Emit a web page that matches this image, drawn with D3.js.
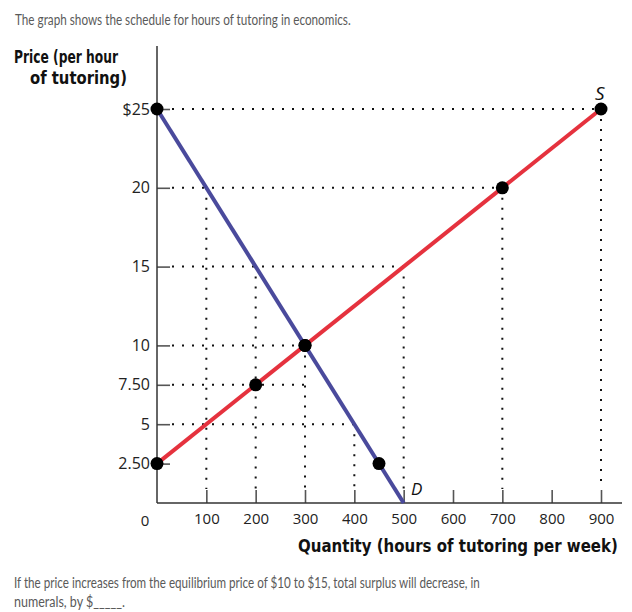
<!DOCTYPE html>
<html>
<head>
<meta charset="utf-8">
<script src="https://cdn.jsdelivr.net/npm/d3@7"></script>
<style>
  html, body { margin: 0; padding: 0; background: #fff; }
  svg { display: block; }
</style>
</head>
<body>
<script>
// ---- data ----
const priceTicks = [2.5, 5, 7.5, 10, 15, 20, 25];
const priceTickLabels = ["2.50", "5", "7.50", "10", "15", "20", "$25"];
const quantityTicks = [100, 200, 300, 400, 500, 600, 700, 800, 900];
const quantityTickLabels = ["100", "200", "300", "400", "500", "600", "700", "800", "900"];
const demandLine = [[0, 25], [500, 0]];
const demandPoints = [[0, 25], [300, 10], [450, 2.5]];
const supplyLine = [[0, 2.5], [900, 25]];
const supplyPoints = [[0, 2.5], [200, 7.5], [300, 10], [700, 20], [900, 25]];
const hGuides = [[900, 25], [700, 20], [500, 15], [300, 10], [300, 7.5], [400, 5]];
const vGuides = [[100, 20], [200, 15], [300, 10], [400, 5], [500, 15], [700, 20], [900, 25]];

const W = 632, H = 612;
const svg = d3.select("body").append("svg").attr("width", W).attr("height", H);

const x = d3.scaleLinear().domain([0, 900]).range([157, 601]);
const y = d3.scaleLinear().domain([0, 25]).range([503, 109]);

const tickFont = "'Open Sans', 'Noto Sans', sans-serif";

// place a text at (px, py) and scale it horizontally to the given width
function fitText(txt, px, py, width, attrs) {
  const t = svg.append("text").attr("x", 0).attr("y", 0).text(txt);
  Object.entries(attrs).forEach(([k, v]) => t.attr(k, v));
  const w = t.node().getComputedTextLength();
  const sx = w > 0 ? width / w : 1;
  t.attr("transform", `translate(${px},${py}) scale(${sx},1)`);
  return t;
}

// title
const qFont = "Lato, 'Open Sans', sans-serif";
fitText("The graph shows the schedule for hours of tutoring in economics.", 15, 25, 336,
  {"font-family": qFont, "font-size": 15, "fill": "#5a5a5a"});

// guides
const g = svg.append("g").attr("stroke", "#111").attr("stroke-width", 2)
  .attr("stroke-dasharray", "2,8").attr("fill", "none");
g.selectAll("line.h").data(hGuides).join("line").attr("class", "h")
  .attr("x1", x(0) + 15).attr("x2", d => x(d[0]))
  .attr("y1", d => y(d[1])).attr("y2", d => y(d[1]));
g.selectAll("line.v").data(vGuides).join("line").attr("class", "v")
  .attr("x1", d => x(d[0])).attr("x2", d => x(d[0]))
  .attr("y1", d => y(d[1]) + 10).attr("y2", y(0) - 14);

// axes
const yAxis = d3.axisLeft(y).tickValues(priceTicks)
  .tickFormat((d, i) => priceTickLabels[i]).tickSize(-13).tickPadding(7);
const xAxis = d3.axisBottom(x).tickValues(quantityTicks)
  .tickFormat((d, i) => quantityTickLabels[i]).tickSize(-13).tickPadding(10);

const ya = svg.append("g").attr("transform", `translate(${x(0)},0)`).call(yAxis)
  .attr("font-size", 16).attr("font-family", tickFont);
const xa = svg.append("g").attr("transform", `translate(0,${y(0)})`).call(xAxis)
  .attr("font-size", 15).attr("font-family", tickFont);
[ya, xa].forEach(a => {
  a.select(".domain").remove();
  a.selectAll(".tick line").attr("stroke", "#555").attr("stroke-width", 1.6);
  a.selectAll(".tick text").attr("fill", "#222");
});
ya.selectAll(".tick text").style("font-size", "16px");
xa.selectAll(".tick text").style("font-size", "15px");

// origin label
svg.append("text").attr("x", 145).attr("y", 526).attr("text-anchor", "middle")
  .attr("font-family", tickFont).attr("font-size", 15)
  .attr("fill", "#222").text("0");

svg.append("line").attr("x1", x(0)).attr("x2", x(0)).attr("y1", 46).attr("y2", y(0))
  .attr("stroke", "#333").attr("stroke-width", 1.5);
svg.append("line").attr("x1", x(0)).attr("x2", 622).attr("y1", y(0)).attr("y2", y(0))
  .attr("stroke", "#333").attr("stroke-width", 1.5);

// axis titles
const titleFont = "'Liberation Sans Narrow', 'DejaVu Sans Condensed', 'Noto Sans', sans-serif";
const titleAttrs = {"font-family": titleFont, "font-weight": "bold", "font-size": 18, "fill": "#111"};
fitText("Price (per hour", 14, 63, 104, titleAttrs);
fitText("of tutoring)", 30, 84, 97, titleAttrs);
fitText("Quantity (hours of tutoring per week)", 298, 552, 320, titleAttrs);

// curves
const line = d3.line().x(d => x(d[0])).y(d => y(d[1]));
svg.append("path").datum(demandLine).attr("d", line).attr("fill", "none")
  .attr("stroke", "#4a4a9c").attr("stroke-width", 4);
svg.append("path").datum(supplyLine).attr("d", line).attr("fill", "none")
  .attr("stroke", "#e5323e").attr("stroke-width", 4);

// points
svg.selectAll("circle.pt").data(demandPoints.concat(supplyPoints)).join("circle")
  .attr("class", "pt").attr("cx", d => x(d[0])).attr("cy", d => y(d[1]))
  .attr("r", 6.5).attr("fill", "#000");

// curve labels
svg.append("text").attr("x", 595).attr("y", 100).attr("font-family", tickFont)
  .attr("font-style", "italic").attr("font-size", 19).attr("fill", "#111").text("S");
svg.append("text").attr("x", 411).attr("y", 495).attr("font-family", tickFont)
  .attr("font-style", "italic").attr("font-size", 17).attr("fill", "#111").text("D");

// question
const qAttrs = {"font-family": qFont, "font-size": 15, "fill": "#5a5a5a"};
fitText("If the price increases from the equilibrium price of $10 to $15, total surplus will decrease, in", 14, 588, 466, qAttrs);
fitText("numerals, by $_____.", 14, 607, 111, qAttrs);
</script>
</body>
</html>
